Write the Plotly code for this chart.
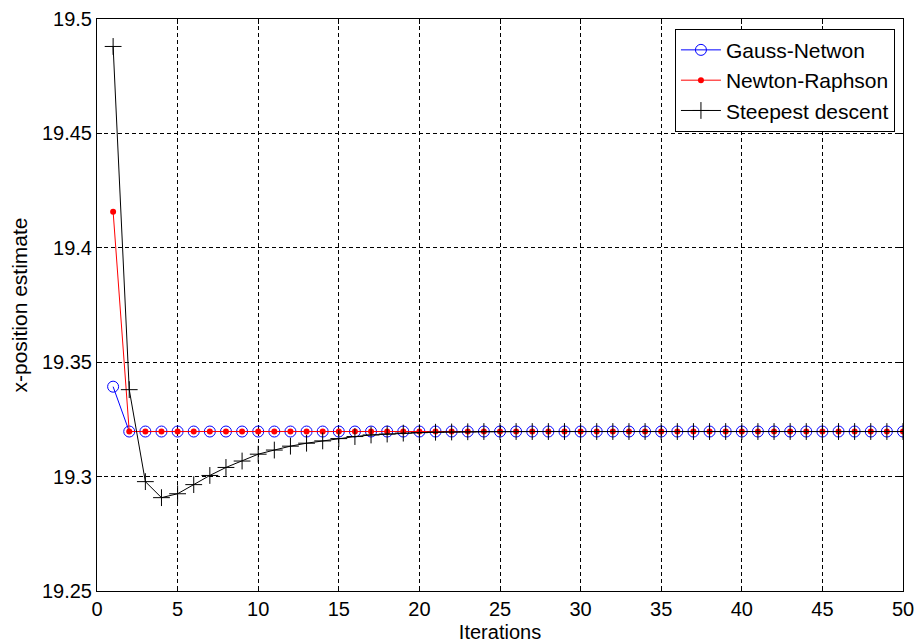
import plotly.graph_objects as go

# Iteration index and the x-position estimate produced by each solver
iterations = list(range(1, 51))

gauss_newton = [19.3393] + [19.3197] * 49

newton_raphson = [19.4158] + [19.3197] * 49

steepest_descent = [
    19.4880, 19.3380, 19.2978, 19.2908, 19.2925, 19.2965, 19.3005, 19.3040,
    19.3068, 19.3098, 19.3116, 19.3133, 19.3146, 19.3156, 19.3166, 19.3175,
    19.3182, 19.3186, 19.3190, 19.3192, 19.3194, 19.3195, 19.3196,
] + [19.3197] * 27

x_ticks = [0, 5, 10, 15, 20, 25, 30, 35, 40, 45, 50]
y_ticks = [19.25, 19.3, 19.35, 19.4, 19.45, 19.5]

FONT = "Liberation Sans, Arial, Helvetica, sans-serif"

fig = go.Figure()

fig.add_trace(go.Scatter(
    x=iterations, y=gauss_newton, name="Gauss-Netwon",
    mode="lines+markers",
    line=dict(color="#0000ff", width=1),
    marker=dict(symbol="circle-open", size=11, color="#0000ff",
                line=dict(width=1, color="#0000ff")),
))

fig.add_trace(go.Scatter(
    x=iterations, y=newton_raphson, name="Newton-Raphson",
    mode="lines+markers",
    line=dict(color="#ff0000", width=1),
    marker=dict(symbol="circle", size=6, color="#ff0000"),
))

fig.add_trace(go.Scatter(
    x=iterations, y=steepest_descent, name="Steepest descent",
    mode="lines+markers",
    line=dict(color="#000000", width=1),
    marker=dict(symbol="cross-thin", size=12,
                line=dict(width=1, color="#000000")),
))

axis_common = dict(
    showline=True, linecolor="black", linewidth=1, mirror="allticks",
    ticks="inside", ticklen=5, tickcolor="black",
    showgrid=True, gridcolor="black", gridwidth=1, griddash="4px,3px",
    zeroline=False, automargin=False,
    tickfont=dict(family=FONT, size=20, color="black"),
)

fig.update_xaxes(
    range=[0, 50], tickvals=x_ticks,
    title=dict(text="Iterations", font=dict(family=FONT, size=20, color="black"),
               standoff=6),
    **axis_common,
)
fig.update_yaxes(
    range=[19.25, 19.5], tickvals=y_ticks,
    title=dict(text="x-position estimate",
               font=dict(family=FONT, size=21, color="black"), standoff=8),
    **axis_common,
)

fig.update_layout(
    width=917, height=643,
    margin=dict(l=97, r=14, t=19, b=52),
    paper_bgcolor="white", plot_bgcolor="white",
    font=dict(family=FONT, size=20, color="black"),
    showlegend=True,
    legend=dict(
        x=0.990, y=0.983, xanchor="right", yanchor="top",
        bgcolor="white", bordercolor="black", borderwidth=1,
        font=dict(family=FONT, size=21, color="black"),
        tracegroupgap=0, itemwidth=40,
    ),
)

fig.write_html("out.html")
